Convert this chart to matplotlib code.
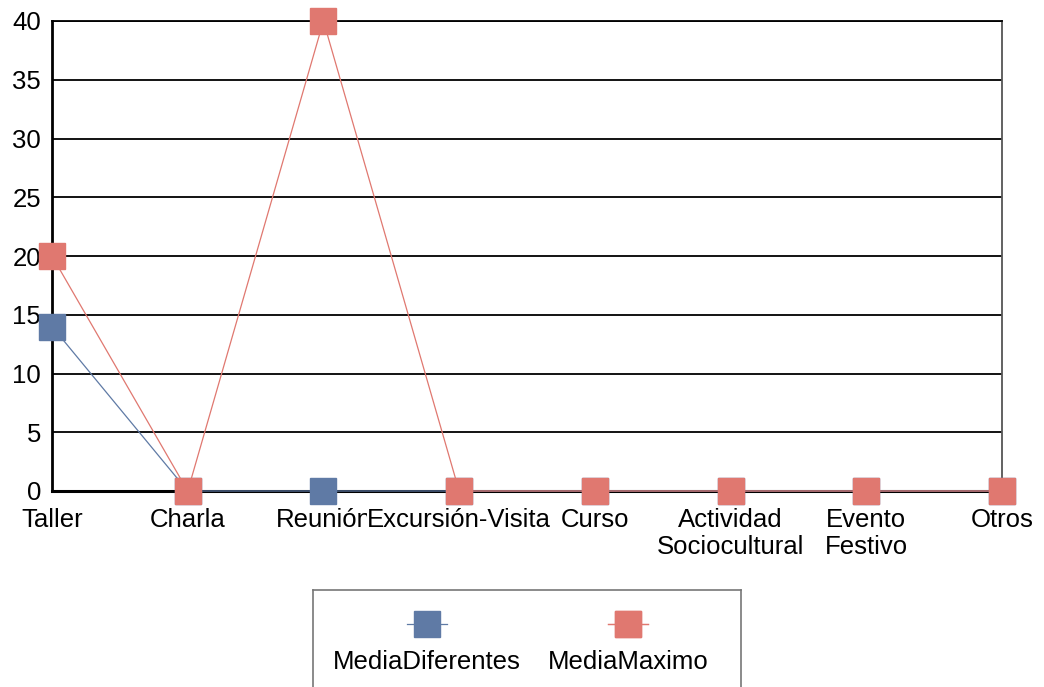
import matplotlib.pyplot as plt
from matplotlib.lines import Line2D

# ---- data ----
categories = ["Taller", "Charla", "Reunión", "Excursión-Visita", "Curso",
              "Actividad\nSociocultural", "Evento\nFestivo", "Otros"]
media_diferentes = [14, 0, 0, 0, 0, 0, 0, 0]
media_maximo = [20, 0, 40, 0, 0, 0, 0, 0]
y_ticks = [0, 5, 10, 15, 20, 25, 30, 35, 40]

BLUE = "#5f7aa5"
RED = "#e07870"
FS = 18.5

plt.rcParams["font.family"] = ["Liberation Sans", "DejaVu Sans"]

W, H = 1044, 687
fig = plt.figure(figsize=(W / 100, H / 100), dpi=100)
ax = fig.add_axes([52 / W, (H - 491) / H, 950 / W, 470 / H])

x = list(range(len(categories)))
ax.plot(x, media_diferentes, color=BLUE, lw=0.9, marker="s", ms=18.5,
        mec=BLUE, mfc=BLUE, zorder=3, clip_on=False)
ax.plot(x, media_maximo, color=RED, lw=0.9, marker="s", ms=18.5,
        mec=RED, mfc=RED, zorder=4, clip_on=False)

ax.set_xlim(0, len(categories) - 1)
ax.set_ylim(0, 40)
ax.set_yticks(y_ticks)
ax.set_xticks(x)
ax.set_xticklabels(categories, fontsize=FS, linespacing=1.15)
ax.tick_params(axis="y", labelsize=FS, length=0, pad=8)
ax.tick_params(axis="x", length=0, pad=12.5)
for lab in ax.get_xticklabels():
    lab.set_bbox(dict(facecolor="white", edgecolor="none", pad=0))

ax.yaxis.grid(True, color="black", lw=1.3)
ax.set_axisbelow(True)
ax.spines["left"].set_linewidth(2)
ax.spines["bottom"].set_linewidth(2.2)
ax.spines["top"].set_linewidth(1.3)
ax.spines["right"].set_color("#555555")
ax.spines["right"].set_linewidth(1.3)

# ---- legend box below the chart, keys above their labels ----
lax = fig.add_axes([313 / W, 0, (741 - 313) / W, (H - 590) / H])
lax.set_xticks([])
lax.set_yticks([])
lax.spines["bottom"].set_visible(False)
for s in ("top", "left", "right"):
    lax.spines[s].set_color("#777777")
    lax.spines[s].set_linewidth(1.2)
lax.set_xlim(0, 1)
lax.set_ylim(0, 1)

names = ["MediaDiferentes", "MediaMaximo"]
colors = [BLUE, RED]
centers = [(427 - 313) / (741 - 313), (628 - 313) / (741 - 313)]
for name, c, cx in zip(names, colors, centers):
    h = Line2D([], [], color=c, lw=0.9, marker="s", ms=18.5, mec=c, mfc=c)
    leg = lax.legend(handles=[h], labels=[""], loc="center",
                     bbox_to_anchor=(cx, (H - 626) / (H - 590)),
                     frameon=False, handlelength=1.56, handletextpad=0,
                     borderpad=0, fontsize=FS)
    lax.add_artist(leg)
    lax.text(cx, (H - 662) / (H - 590), name, ha="center", va="center",
             fontsize=FS)

fig.savefig("out.png", dpi=100)
